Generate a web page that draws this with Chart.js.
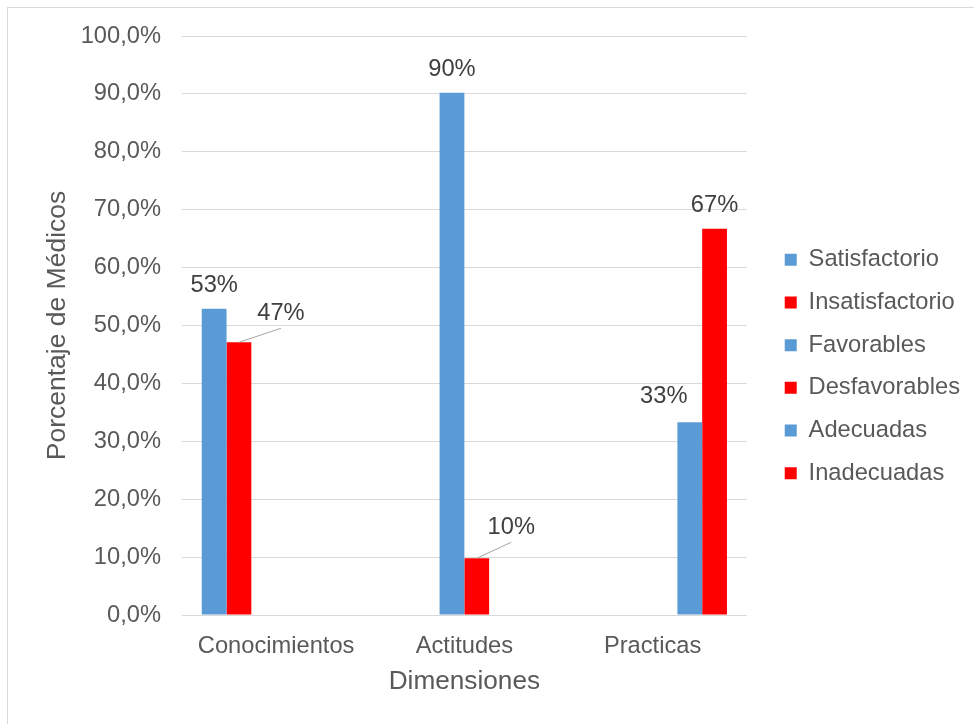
<!DOCTYPE html>
<html>
<head>
<meta charset="utf-8">
<script src="https://cdn.jsdelivr.net/npm/chart.js@4.4.0/dist/chart.umd.min.js"></script>
<style>
    body { margin: 0; background: #fff; }
    #grafico { display: block; }
</style>
</head>
<body>
<canvas id="grafico" width="974" height="724"></canvas>
<script>
const categorias = ['Conocimientos', 'Actitudes', 'Practicas'];
const nombres = ['Satisfactorio', 'Insatisfactorio', 'Favorables', 'Desfavorables', 'Adecuadas', 'Inadecuadas'];
const satisfactorio = [52.9, null, null];
const insatisfactorio = [47.1, null, null];
const favorables = [null, 90.2, null];
const desfavorables = [null, 9.8, null];
const adecuadas = [null, null, 33.3];
const inadecuadas = [null, null, 66.7];

const azul = '#5B9BD5';
const rojo = '#FF0000';
const gris = '#595959';
const fuente = "'Liberation Sans', Arial, sans-serif";

Chart.defaults.font.family = fuente;
Chart.defaults.color = gris;

//fondo y borde del grafico
const fondo = {
    id: 'fondo',
    beforeDraw(chart) {
        let ctx = chart.ctx;
        ctx.save();
        ctx.fillStyle = '#fff';
        ctx.fillRect(0, 0, chart.width, chart.height);
        ctx.strokeStyle = '#d9d9d9';
        ctx.lineWidth = 1;
        ctx.strokeRect(7.5, 7.5, 1000, 1000);
        ctx.restore();
    }
};

//etiquetas de porcentaje sobre las barras
const etiquetas = {
    id: 'etiquetas',
    afterDatasetsDraw(chart, args, opts) {
        let ctx = chart.ctx;
        ctx.save();
        ctx.font = '23.7px ' + fuente;
        ctx.textAlign = 'center';
        ctx.textBaseline = 'middle';
        chart.data.datasets.forEach(function (ds, i) {
            let meta = chart.getDatasetMeta(i);
            let d = opts.desvio[i];
            ds.data.forEach(function (v, j) {
                if (v === null) return;
                let bar = meta.data[j];
                let x = bar.x + d[0];
                let y = bar.y + d[1];
                if (d[2]) {
                    ctx.strokeStyle = '#a6a6a6';
                    ctx.lineWidth = 1;
                    ctx.beginPath();
                    ctx.moveTo(bar.x, bar.y);
                    ctx.lineTo(x, y + 15);
                    ctx.stroke();
                }
                ctx.fillStyle = '#404040';
                ctx.fillText(Math.round(v) + '%', x, y);
            });
        });
        ctx.restore();
    }
};

const valores = [satisfactorio, insatisfactorio, favorables, desfavorables, adecuadas, inadecuadas];
const colores = [azul, rojo, azul, rojo, azul, rojo];

let datasets = nombres.map(function (n, i) {
    return {
        label: n,
        data: valores[i],
        backgroundColor: colores[i],
        borderWidth: 0,
        categoryPercentage: 0.79,
        barPercentage: 1
    };
});

let ctx = document.getElementById('grafico').getContext('2d');
const config = {
    type: 'bar',
    data: {
        labels: categorias,
        datasets: datasets
    },
    options: {
        responsive: false,
        animation: false,
        layout: {
            padding: {top: 36, left: 0, right: 4, bottom: 27}
        },
        scales: {
            x: {
                grid: {display: false},
                border: {display: false},
                ticks: {
                    color: gris,
                    font: {size: 23.7},
                    padding: 9,
                    maxRotation: 0,
                    autoSkip: false
                },
                title: {
                    display: true,
                    text: 'Dimensiones',
                    color: gris,
                    font: {size: 26.2},
                    padding: {top: 0, bottom: 0}
                },
                afterFit: function (s) {
                    s.height = 82;
                }
            },
            y: {
                min: 0,
                max: 100,
                grid: {color: '#d9d9d9', lineWidth: 1, drawTicks: false},
                border: {display: false},
                ticks: {
                    stepSize: 10,
                    color: gris,
                    font: {size: 23.7},
                    padding: 21,
                    callback: function (value) {
                        return value.toFixed(1).replace('.', ',') + '%';
                    }
                },
                title: {
                    display: true,
                    text: 'Porcentaje de Médicos',
                    color: gris,
                    font: {size: 26.5},
                    padding: {top: 41.6, bottom: 0}
                },
                afterFit: function (s) {
                    s.width = 182;
                }
            },
            //eje vacio para separar la leyenda
            espacio: {
                type: 'linear',
                position: 'right',
                grid: {display: false, drawTicks: false},
                border: {display: false},
                ticks: {display: false},
                afterFit: function (s) {
                    s.width = 19;
                }
            }
        },
        plugins: {
            legend: {
                position: 'right',
                maxWidth: 215,
                labels: {
                    boxWidth: 12,
                    boxHeight: 12,
                    padding: 19,
                    color: gris,
                    font: {size: 23.7}
                }
            },
            tooltip: {enabled: false},
            etiquetas: {
                desvio: [[0, -23], [42, -29, true], [0, -23], [34.5, -31, true], [-26, -26], [0, -23]]
            }
        }
    },
    plugins: [fondo, etiquetas]
};
let grafico = new Chart(ctx, config);
</script>
</body>
</html>
